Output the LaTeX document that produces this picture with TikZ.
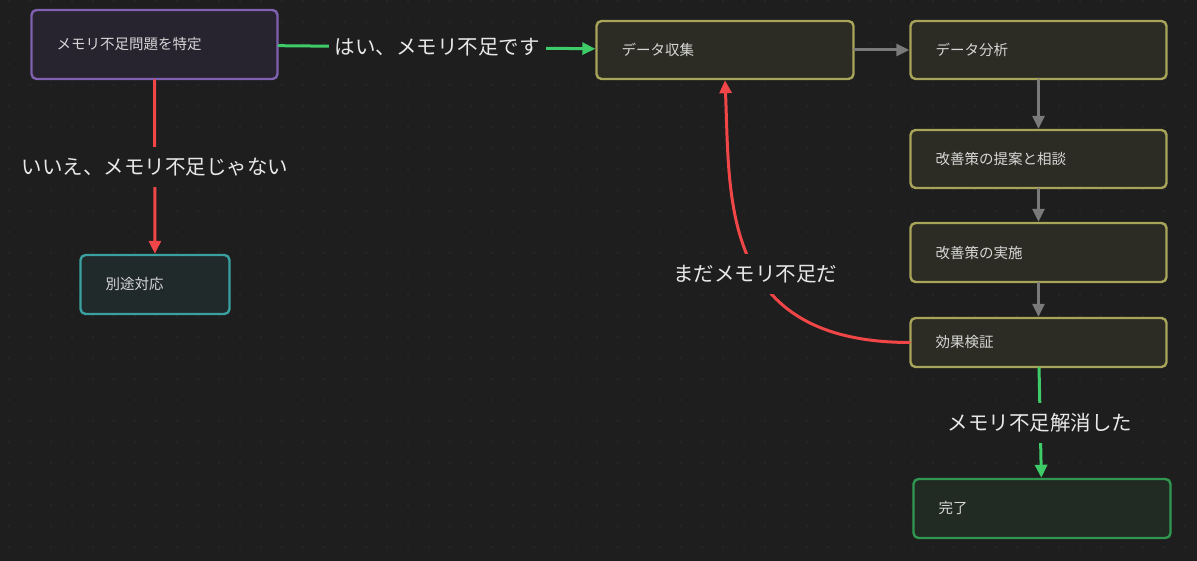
\documentclass[tikz,border=0pt]{standalone}
\usepackage{fontspec}
\newfontfamily\jp{Noto Sans CJK JP}
\usepackage{xcolor}
\usepackage{tikz}
\usetikzlibrary{arrows.meta,calc}
\definecolor{bg}{RGB}{30,30,30}
\definecolor{gridc}{RGB}{46,46,46}
\definecolor{txt}{RGB}{214,214,214}
\definecolor{lbltxt}{RGB}{232,232,232}
\definecolor{purpled}{RGB}{128,96,176}
\definecolor{purplef}{RGB}{39,35,47}
\definecolor{olived}{RGB}{168,165,90}
\definecolor{olivef}{RGB}{45,44,36}
\definecolor{teald}{RGB}{58,160,160}
\definecolor{tealf}{RGB}{33,42,43}
\definecolor{greend}{RGB}{48,150,80}
\definecolor{greenf}{RGB}{33,42,35}
\definecolor{redl}{RGB}{240,70,72}
\definecolor{greenl}{RGB}{62,204,104}
\definecolor{grayl}{RGB}{122,122,122}

\begin{document}
\begin{tikzpicture}[line cap=round,line join=round,>={Triangle[length=13pt,width=12pt]},x=1pt,y=-1pt,
  box/.style={draw,line width=2.4pt,rounded corners=5pt,align=left,inner xsep=25pt,inner ysep=0pt,
    text=txt,font=\jp\fontsize{14.5}{17}\selectfont,text width=#1},
  lbl/.style={fill=bg,text=lbltxt,inner xsep=6pt,inner ysep=0pt,minimum height=40pt,
    font=\jp\fontsize{20.5}{24}\selectfont},
  redge/.style={draw=redl,line width=3pt},
  gedge/.style={draw=greenl,line width=3pt},
  nedge/.style={draw=grayl,line width=3pt}]
\fill[bg] (0,0) rectangle (1197,561);
\useasboundingbox (0,0) rectangle (1197,561);
\foreach \i in {9,30,...,1197}
  \foreach \j in {1,22,...,561}
    \fill[gridc] (\i,\j) circle (0.8pt);
\node[box=196pt,draw=purpled,fill=purplef,minimum height=69pt] (prob) at (154.5,44.5) {メモリ不足問題を特定};
\node[box=207pt,draw=olived,fill=olivef,minimum height=58pt] (collect) at (725,50) {データ収集};
\node[box=206pt,draw=olived,fill=olivef,minimum height=58pt] (analyze) at (1038.5,50) {データ分析};
\node[box=206pt,draw=olived,fill=olivef,minimum height=58pt] (propose) at (1038.5,159) {改善策の提案と相談};
\node[box=206pt,draw=olived,fill=olivef,minimum height=59pt] (apply) at (1038.5,252.5) {改善策の実施};
\node[box=206pt,draw=olived,fill=olivef,minimum height=49pt] (verify) at (1038.5,342.5) {効果検証};
\node[box=207pt,draw=greend,fill=greenf,minimum height=59pt] (done) at (1042,508.5) {完了};
\node[box=99pt,draw=teald,fill=tealf,minimum height=59pt] (other) at (155,284.5) {別途対応};
\draw[gedge,->] (prob) -- node[lbl] {はい、メモリ不足です} (collect);
\draw[redge,->] (prob) -- node[lbl] {いいえ、メモリ不足じゃない} (other);
\draw[nedge,->] (collect) -- (analyze);
\draw[nedge,->] (analyze) -- (propose);
\draw[nedge,->] (propose) -- (apply);
\draw[nedge,->] (apply) -- (verify);
\draw[redge,->] (verify.west) .. controls (720,342) and (730,200) .. (collect.south);
\node[lbl] (again) at (755,274) {まだメモリ不足だ};
\draw[gedge,->] (verify) -- node[lbl] {メモリ不足解消した} (done);
\end{tikzpicture}
\end{document}
